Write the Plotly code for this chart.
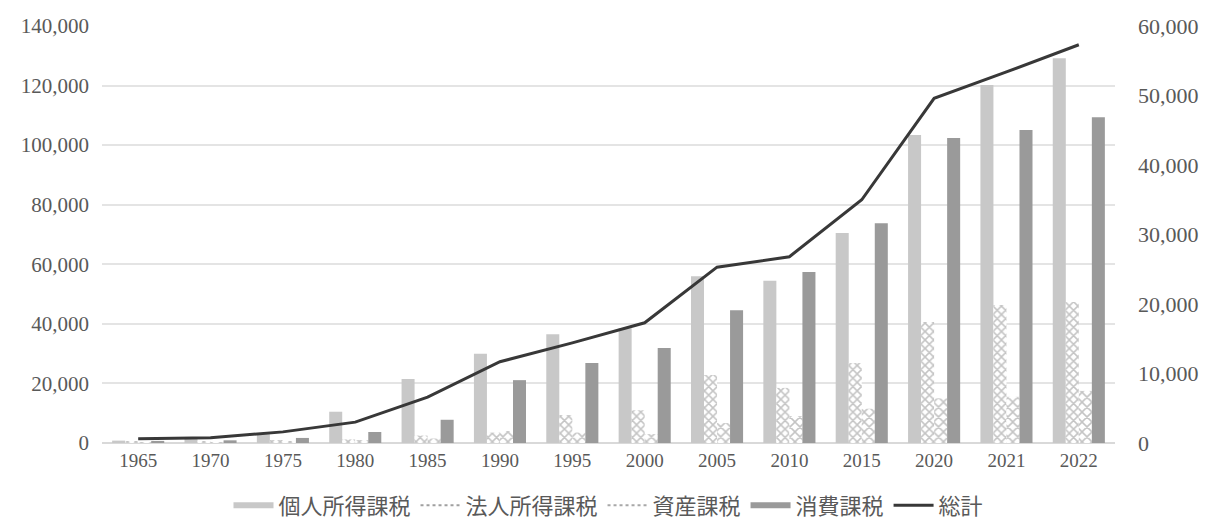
import plotly.graph_objects as go

years = ["1965", "1970", "1975", "1980", "1985", "1990", "1995", "2000",
         "2005", "2010", "2015", "2020", "2021", "2022"]
kojin = [800, 1500, 3000, 10500, 21500, 30000, 36500, 38500,
         56000, 54500, 70500, 103400, 120200, 129200]
hojin = [400, 600, 1000, 1200, 2500, 3500, 9400, 11000,
         22800, 18500, 26900, 40600, 46300, 47300]
shisan = [200, 300, 600, 1000, 1500, 4000, 3500, 3000,
          6700, 9000, 11500, 15000, 15500, 17500]
shohi = [700, 900, 1700, 3700, 7800, 21100, 26900, 31900,
         44600, 57400, 73800, 102400, 105100, 109400]
total = [600, 750, 1600, 3000, 6600, 11700, 14400, 17300,
         25300, 26800, 35000, 49600, 53400, 57300]
names = ["個人所得課税", "法人所得課税", "資産課税", "消費課税", "総計"]

FONT = "Liberation Serif, Noto Sans CJK JP, serif"
TXT = "#595959"

fig = go.Figure()
fig.add_trace(go.Bar(x=years, y=kojin, name=names[0], showlegend=False,
                     marker=dict(color="#c8c8c8", line=dict(width=0))))
fig.add_trace(go.Bar(x=years, y=hojin, name=names[1], showlegend=False,
                     marker=dict(color="#ffffff", line=dict(width=0),
                                 pattern=dict(shape="x", fgcolor="#8a8a8a",
                                              bgcolor="#ffffff", size=6, solidity=0.45))))
fig.add_trace(go.Bar(x=years, y=shisan, name=names[2], showlegend=False,
                     marker=dict(color="#ffffff", line=dict(width=0),
                                 pattern=dict(shape="x", fgcolor="#8a8a8a",
                                              bgcolor="#ffffff", size=7, solidity=0.4))))
fig.add_trace(go.Bar(x=years, y=shohi, name=names[3], showlegend=False,
                     marker=dict(color="#9a9a9a", line=dict(width=0))))
fig.add_trace(go.Scatter(x=years, y=total, name=names[4], yaxis="y2", mode="lines",
                         showlegend=False, line=dict(color="#383838", width=3)))

# legend-only entries styled like the reference swatches
legend_styles = [
    dict(color="#c8c8c8", width=6, dash="solid"),
    dict(color="#a0a0a0", width=2, dash="dot"),
    dict(color="#a8a8a8", width=2, dash="dot"),
    dict(color="#9a9a9a", width=6, dash="solid"),
    dict(color="#383838", width=3, dash="solid"),
]
for nm, st in zip(names, legend_styles):
    fig.add_trace(go.Scatter(x=[None], y=[None], name=nm, mode="lines",
                             line=st, showlegend=True, hoverinfo="skip"))

fig.update_layout(
    width=1216, height=521,
    margin=dict(l=102, r=101, t=26, b=78, autoexpand=False),
    paper_bgcolor="white", plot_bgcolor="white",
    barmode="group", bargap=0.28, bargroupgap=0,
    font=dict(family=FONT, size=18, color=TXT),
    xaxis=dict(type="category", showgrid=False, showline=False, ticks="",
               tickfont=dict(size=19, color=TXT), ticklabelstandoff=4),
    yaxis=dict(range=[0, 140000], dtick=20000, tickformat=",",
               showgrid=True, gridcolor="#e4e4e4", gridwidth=1.5,
               zeroline=True, zerolinecolor="#d9d9d9", zerolinewidth=1.5,
               showline=False, ticks="", tickfont=dict(size=21, color=TXT),
               ticklabelstandoff=12),
    yaxis2=dict(range=[0, 60000], dtick=10000, tickformat=",", overlaying="y",
                side="right", showgrid=False, zeroline=False, showline=False,
                ticks="", tickfont=dict(size=22, color=TXT), ticklabelstandoff=22),
    legend=dict(orientation="h", x=0.5, xanchor="center",
                yref="container", y=0.03, yanchor="middle",
                font=dict(size=22, color=TXT), traceorder="normal",
                itemwidth=40, entrywidth=0),
)

fig.write_html("out.html")
